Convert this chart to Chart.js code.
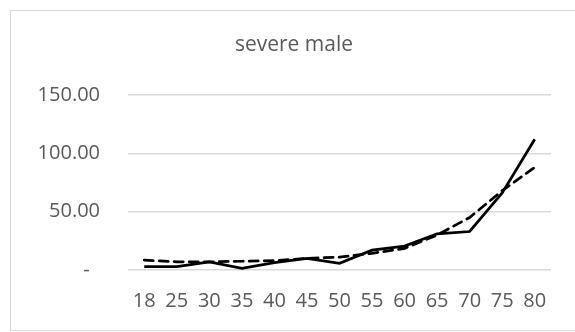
<!DOCTYPE html>
<html>
<head>
<meta charset="utf-8">
<script src="https://cdn.jsdelivr.net/npm/chart.js@4/dist/chart.umd.min.js"></script>
<style>
  html, body { margin: 0; padding: 0; background: #ffffff; }
  #wrap { width: 575px; height: 332px; }
</style>
</head>
<body>
<div id="wrap"><canvas id="c" width="575" height="332"></canvas></div>
<script>
// Age groups on the x axis
const ages = ['18', '25', '30', '35', '40', '45', '50', '55', '60', '65', '70', '75', '80'];
// Observed rates (solid line)
const observed = [2.8, 2.8, 7.0, 1.5, 6.3, 10.0, 5.7, 17.0, 20.5, 31.0, 33.0, 66.0, 112.0];
// Fitted rates (dashed line)
const fitted = [8.5, 7.0, 7.0, 7.5, 8.0, 10.0, 11.0, 14.3, 18.5, 30.0, 45.0, 68.0, 88.0];
// Value axis ticks
const yTicks = [0, 50, 100, 150];
const yTickLabels = ['-', '50.00', '100.00', '150.00'];
const chartTitle = 'severe male';

const textColor = '#595959';
const gridColor = '#d9d9d9';
const fontFamily = '"Open Sans", "Liberation Sans", sans-serif';

// Thin frame round the whole chart, plus the centred title
const framePlugin = {
  id: 'frame',
  beforeDraw(chart) {
    const ctx = chart.ctx;
    ctx.save();
    ctx.strokeStyle = gridColor;
    ctx.lineWidth = 1;
    ctx.strokeRect(10.5, 10.5, 600, 320);
    ctx.restore();
  },
  afterDraw(chart) {
    const ctx = chart.ctx;
    ctx.save();
    ctx.fillStyle = textColor;
    ctx.font = '21px ' + fontFamily;
    ctx.textAlign = 'center';
    ctx.textBaseline = 'middle';
    ctx.fillText(chartTitle, 294, 45);
    ctx.restore();
  }
};

new Chart(document.getElementById('c'), {
  type: 'line',
  data: {
    labels: ages,
    datasets: [
      {
        label: 'observed',
        data: observed,
        borderColor: '#000000',
        borderWidth: 2.75,
        pointRadius: 0,
        tension: 0,
        fill: false
      },
      {
        label: 'fitted',
        data: fitted,
        borderColor: '#000000',
        borderWidth: 2.75,
        borderDash: [9, 6],
        borderCapStyle: 'round',
        pointRadius: 0,
        tension: 0,
        fill: false
      }
    ]
  },
  options: {
    responsive: false,
    animation: false,
    events: [],
    layout: { padding: { left: 10, right: 24, top: 95, bottom: 22 } },
    plugins: {
      legend: { display: false },
      tooltip: { enabled: false },
      title: { display: false }
    },
    scales: {
      x: {
        offset: true,
        grid: { display: false, drawTicks: false },
        border: { display: false },
        ticks: {
          color: textColor,
          font: { family: fontFamily, size: 20 },
          padding: 19,
          maxRotation: 0,
          autoSkip: false
        },
        afterFit(scale) { scale.height = 40; }
      },
      y: {
        min: 0,
        max: 150,
        afterBuildTicks(scale) { scale.ticks = yTicks.map(v => ({ value: v })); },
        grid: { color: gridColor, lineWidth: 1.5, drawTicks: false },
        border: { display: false },
        ticks: {
          color: textColor,
          font: { family: fontFamily, size: 20 },
          padding: 28,
          callback(value) {
            const i = yTicks.indexOf(value);
            return i === 0 ? yTickLabels[i] + '  ' : yTickLabels[i];
          }
        },
        afterFit(scale) { scale.width = 118; }
      }
    }
  },
  plugins: [framePlugin]
});
</script>
</body>
</html>
